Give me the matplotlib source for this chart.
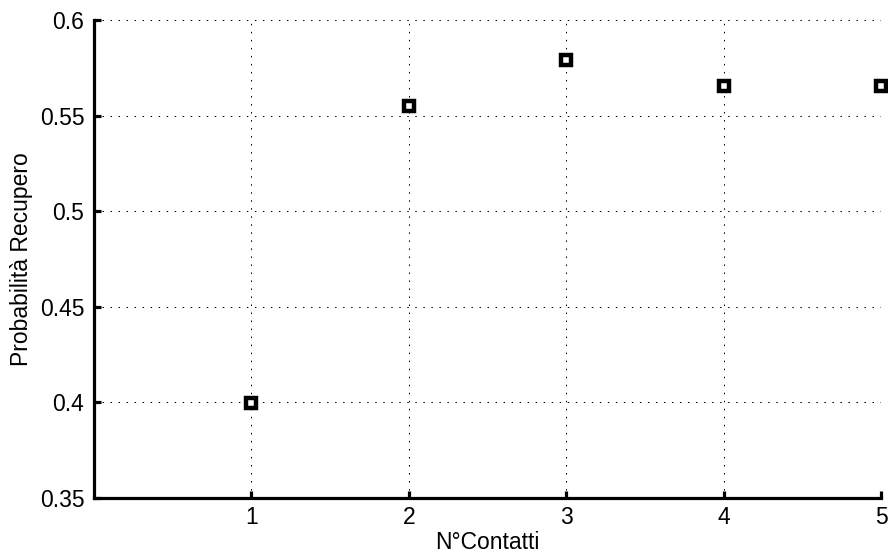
import numpy as np
import matplotlib.pyplot as plt

plt.rcParams['font.family'] = ['Liberation Sans', 'DejaVu Sans']

# numero di contatti e probabilità di recupero stimata
contatti = [1, 2, 3, 4, 5]
prob_recupero = [0.3995, 0.5552, 0.5791, 0.5655, 0.5655]

fig = plt.figure(figsize=(8.88, 5.53), dpi=100)
ax = fig.add_axes([0.1059, 0.0995, 0.8862, 0.8643])

ax.plot(contatti, prob_recupero, linestyle='none', marker='s', markersize=7,
        markeredgewidth=3.2, markeredgecolor='black', markerfacecolor='white',
        zorder=3, clip_on=False)

ax.set_xlim(0, 5)
ax.set_ylim(0.35, 0.6)
ax.set_xticks([1, 2, 3, 4, 5])
ax.set_yticks([0.35, 0.4, 0.45, 0.5, 0.55, 0.6])
ax.set_yticklabels(['0.35', '0.4', '0.45', '0.5', '0.55', '0.6'])

# griglia puntinata stile matlab
ax.grid(True, color='black', linestyle=(0, (1.4, 6.3)), linewidth=0.75)
ax.set_axisbelow(True)

ax.spines['top'].set_visible(False)
ax.spines['right'].set_visible(False)
ax.spines['left'].set_linewidth(2.3)
ax.spines['bottom'].set_linewidth(2.3)
ax.tick_params(direction='in', length=5, width=2.3, labelsize=16.5)
ax.tick_params(axis='y', pad=7)
ax.tick_params(axis='x', pad=6)

ax.set_xlabel('N°Contatti', fontsize=16.5, labelpad=1.5)
ax.set_ylabel('Probabilità Recupero', fontsize=16.5, labelpad=5)

fig.savefig('out.png', dpi=100)
